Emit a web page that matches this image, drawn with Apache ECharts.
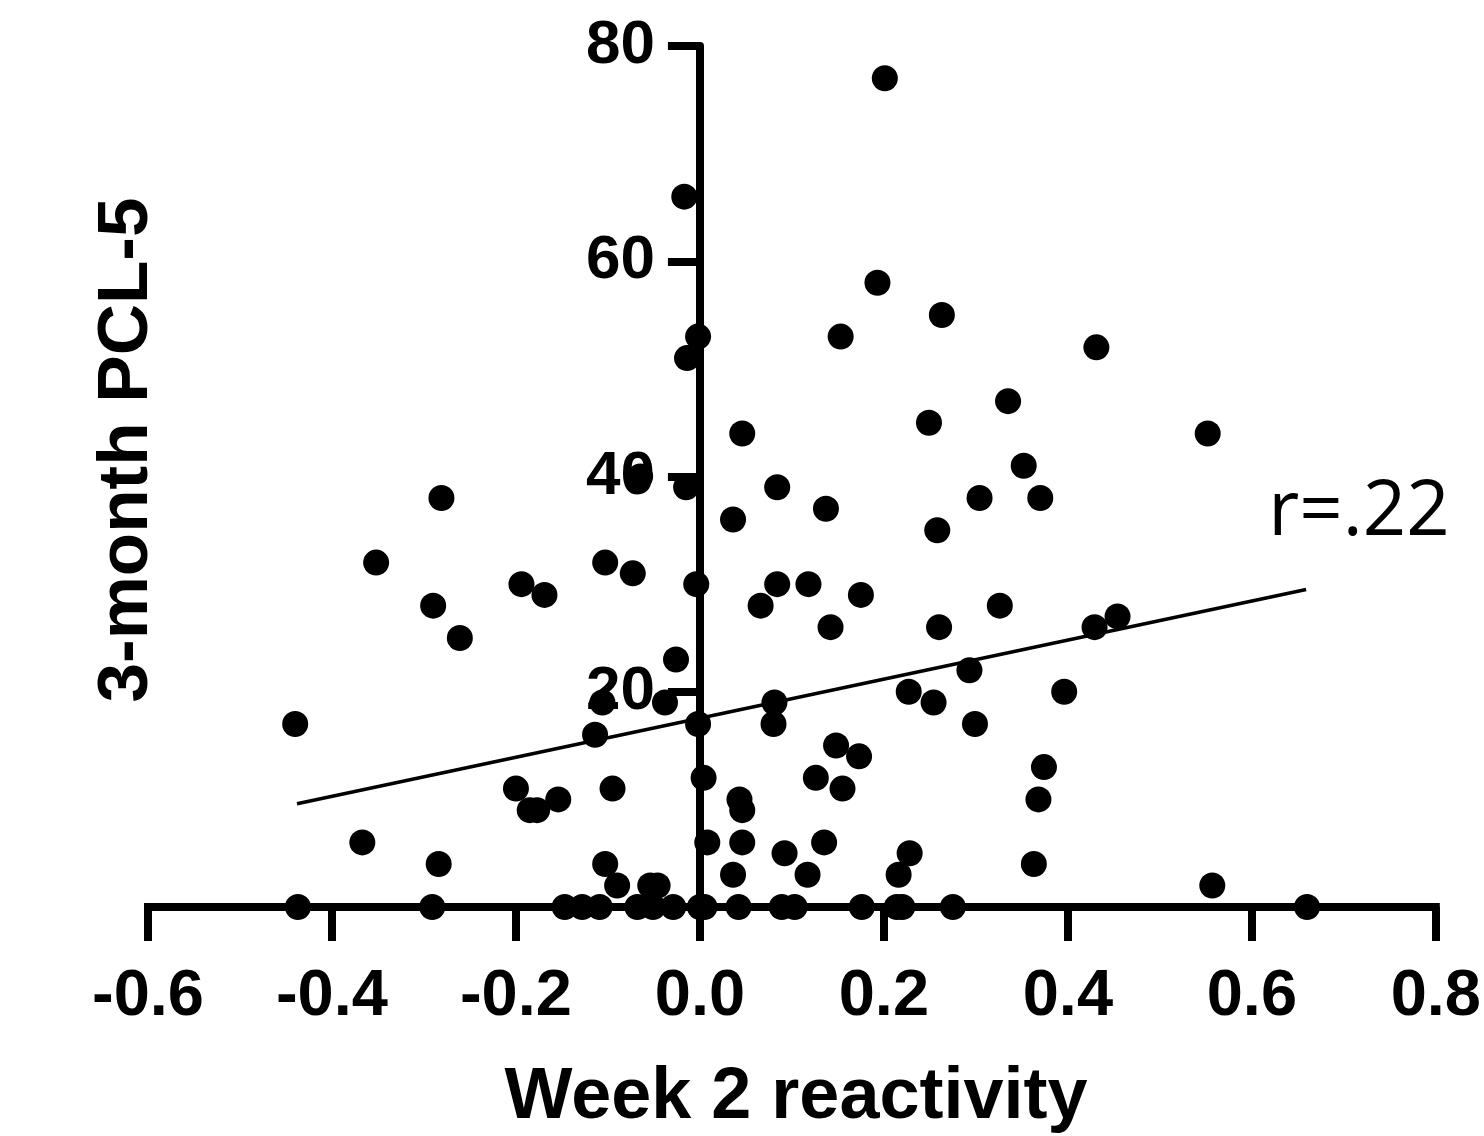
<!DOCTYPE html>
<html>
<head>
<meta charset="utf-8">
<script src="https://cdn.jsdelivr.net/npm/echarts@6/dist/echarts.min.js"></script>
<style>
  html, body { margin: 0; padding: 0; background: #fff; }
  #chart { width: 1484px; height: 1136px; }
</style>
</head>
<body>
<div id="chart"></div>
<script>
// Week 2 reactivity (x) and 3-month PCL-5 (y)
const reactivity = [
  0.201, -0.017, 0.193, 0.263, 0.153, -0.002, -0.014, 0.431, 0.335, 0.249,
  0.552, 0.046, 0.352, -0.015, -0.065, 0.084, -0.281, 0.304, 0.370, 0.137,
  0.036, 0.258, -0.352, -0.103, -0.073, -0.194, -0.169, -0.004, 0.084, 0.118,
  0.175, -0.290, 0.066, 0.326, -0.261, 0.142, 0.260, 0.429, 0.454, -0.026,
  0.293, 0.227, 0.396, 0.081, 0.254, -0.038, -0.106, -0.002, 0.080, 0.299,
  -0.440, -0.114, 0.148, 0.173, 0.374, 0.004, 0.126, -0.200, -0.095, 0.155,
  -0.154, -0.185, -0.177, 0.043, 0.046, 0.368, -0.367, 0.008, 0.046, 0.135,
  0.092, 0.228, -0.284, -0.103, 0.363, 0.036, 0.117, 0.216, -0.090, -0.054,
  -0.046, 0.557,
  -0.437, -0.291, -0.147, -0.128, -0.109, -0.068, -0.051, -0.029, 0.000, 0.005,
  0.042, 0.089, 0.103, 0.176, 0.214, 0.220, 0.275, 0.660
];
const pcl5 = [
  77, 66, 58, 55, 53, 53, 51, 52, 47, 45,
  44, 44, 41, 39, 40, 39, 38, 38, 38, 37,
  36, 35, 32, 32, 31, 30, 29, 30, 30, 30,
  29, 28, 28, 28, 25, 26, 26, 26, 27, 23,
  22, 20, 20, 19, 19, 19, 19, 17, 17, 17,
  17, 16, 15, 14, 13, 12, 12, 11, 11, 11,
  10, 9, 9, 10, 9, 10, 6, 6, 6, 6,
  5, 5, 4, 4, 4, 3, 3, 3, 2, 2,
  2, 2,
  0, 0, 0, 0, 0, 0, 0, 0, 0, 0,
  0, 0, 0, 0, 0, 0, 0, 0
];
// regression line end points
const fitX = [-0.438, 0.659];
const fitY = [9.6, 29.5];
const xTicks = [-0.6, -0.4, -0.2, 0.0, 0.2, 0.4, 0.6, 0.8];
const yTicks = [0, 20, 40, 60, 80];
const xTitle = 'Week 2 reactivity';
const yTitle = '3-month PCL-5';
const corrText = 'r=.22';

const points = reactivity.map((x, i) => [x, pcl5[i]]);
const fitLine = fitX.map((x, i) => [x, fitY[i]]);

const chart = echarts.init(document.getElementById('chart'), null, { renderer: 'canvas' });
const boldFont = '"Liberation Sans", Arial, sans-serif';
chart.setOption({
  animation: false,
  backgroundColor: '#fff',
  grid: { left: 148, right: 47, top: 46, bottom: 229, containLabel: false },
  xAxis: {
    type: 'value',
    min: xTicks[0], max: xTicks[xTicks.length - 1], interval: 0.2,
    axisLine: { show: true, onZero: false, lineStyle: { color: '#000', width: 8, cap: 'square' } },
    axisTick: { show: true, length: 34, lineStyle: { color: '#000', width: 8 } },
    splitLine: { show: false },
    axisLabel: {
      margin: 58, color: '#000', fontSize: 65, fontWeight: 'bold', fontFamily: boldFont,
      formatter: v => v.toFixed(1)
    }
  },
  yAxis: {
    type: 'value',
    min: yTicks[0], max: yTicks[yTicks.length - 1], interval: 20,
    axisLine: { show: true, onZero: true, lineStyle: { color: '#000', width: 8 } },
    axisTick: { show: true, length: 32, lineStyle: { color: '#000', width: 8 } },
    splitLine: { show: false },
    axisLabel: {
      margin: -507, color: '#000', fontSize: 62, fontWeight: 'bold', fontFamily: boldFont,
      align: 'right',
      formatter: v => (v === 0 ? '' : String(v))
    }
  },
  graphic: [
    {
      type: 'text', x: 796, y: 1098,
      style: { text: xTitle, fill: '#000', font: 'bold 72px ' + boldFont, textAlign: 'center', textVerticalAlign: 'middle' }
    },
    {
      type: 'text', x: 127, y: 450, rotation: Math.PI / 2,
      style: { text: yTitle, fill: '#000', font: 'bold 71px ' + boldFont, textAlign: 'center', textVerticalAlign: 'middle' }
    },
    {
      type: 'text', x: 1359, y: 513,
      style: { text: corrText, fill: '#000', font: '76px "Open Sans", sans-serif', textAlign: 'center', textVerticalAlign: 'middle' }
    }
  ],
  series: [
    {
      type: 'line', data: fitLine, symbol: 'none', z: 3,
      lineStyle: { color: '#000', width: 3.5 }
    },
    {
      type: 'scatter', data: points, symbol: 'circle', symbolSize: 26, z: 4,
      itemStyle: { color: '#000', opacity: 1 }
    }
  ]
});
</script>
</body>
</html>
